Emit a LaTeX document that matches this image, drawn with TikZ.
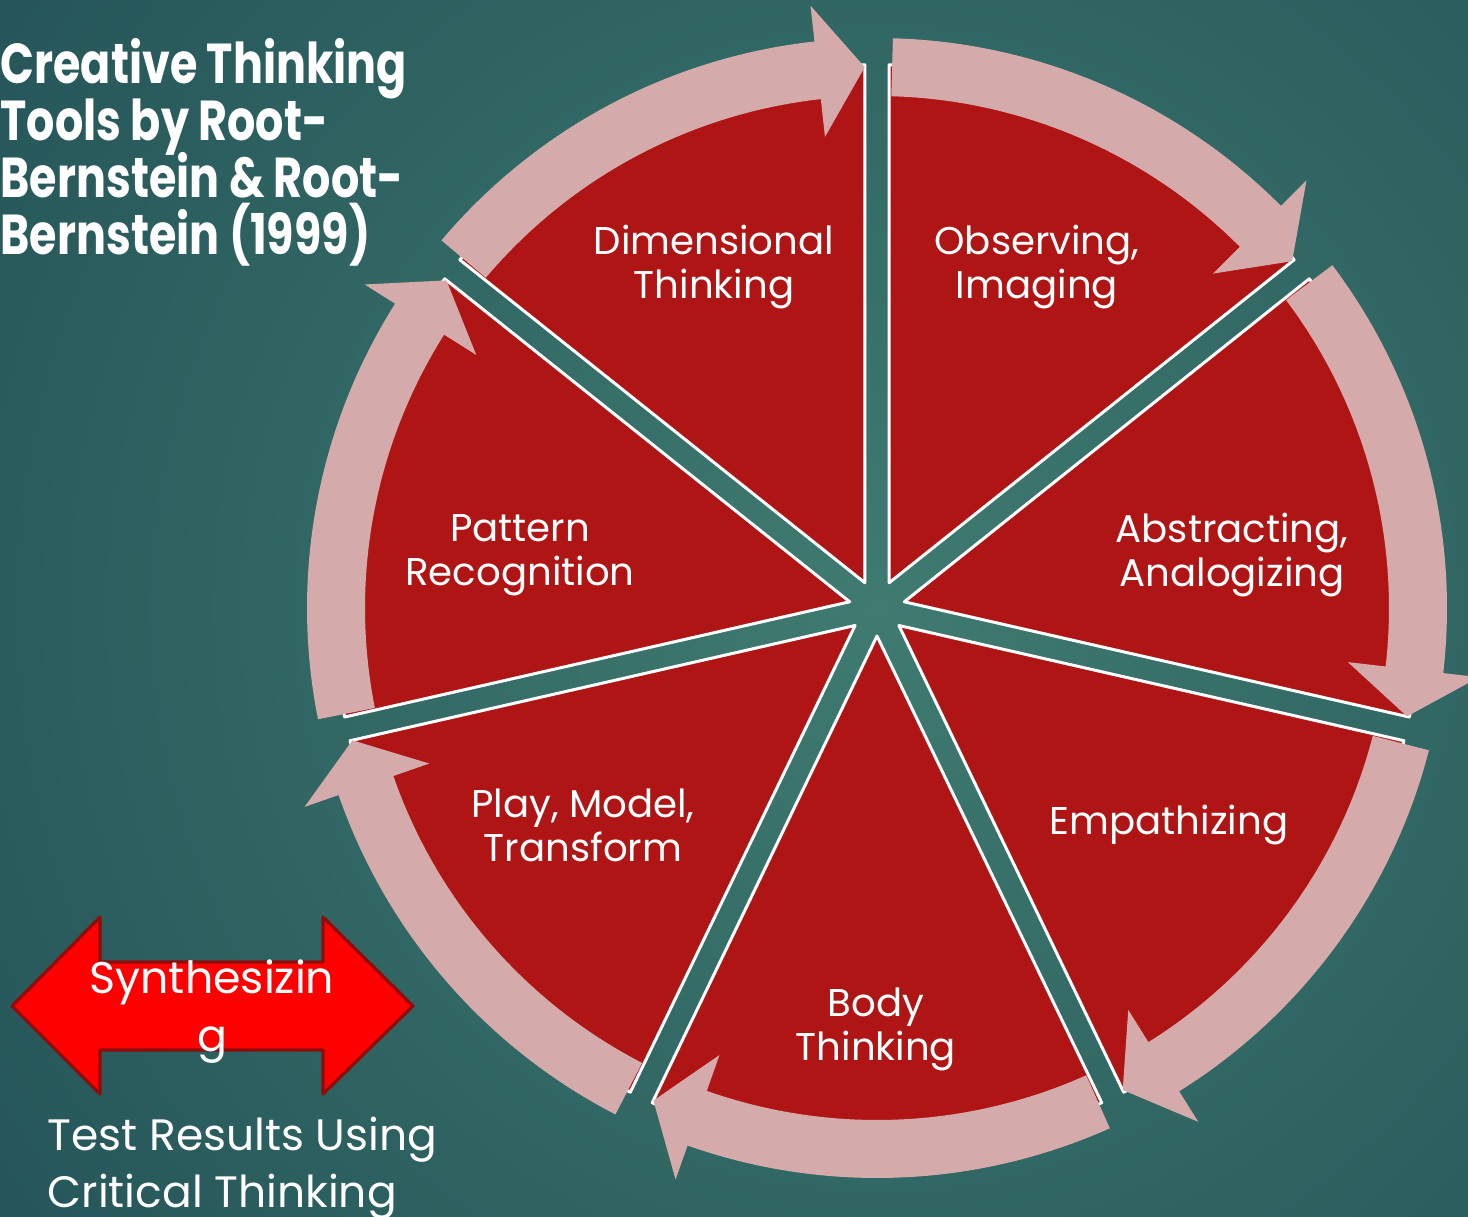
\documentclass[tikz,border=0pt]{standalone}
\usepackage{fontspec}
\setmainfont{Poppins}
\newfontfamily\headfont[FakeStretch=0.79]{Poppins}
\usetikzlibrary{positioning}
\lineskiplimit=-100pt

\definecolor{slicered}{HTML}{B01515}
\definecolor{arrowpink}{HTML}{D4AAAA}
\definecolor{bgdark}{HTML}{1B4650}
\definecolor{bglight}{HTML}{3F7B70}
\definecolor{synthred}{HTML}{FF0000}
\definecolor{synthedge}{HTML}{8E0C0C}

\begin{document}
\begin{tikzpicture}[x=0.01cm, y=0.01cm,
        slicebox/.style={fill=slicered, draw=white, line width=0.85pt, line join=round},
        cyclearrow/.style={fill=arrowpink},
        toollabel/.style={text=white, align=center, inner sep=0pt, font=\fontsize{11}{12.5}\selectfont},
        titletext/.style={text=white, align=left, inner sep=0pt, font=\headfont\bfseries\fontsize{16}{16.2}\selectfont},
        synthtext/.style={text=white, align=center, inner sep=0pt, font=\fontsize{12.6}{16.5}\selectfont},
        resulttext/.style={text=white, align=left, inner sep=0pt, font=\fontsize{12.5}{16.2}\selectfont}]
            \useasboundingbox (0,0) rectangle (1468,-1217);
            \begin{scope}
                \clip (0,0) rectangle (1468,-1217);
                \shade[inner color=bglight, outer color=bgdark] (877,-608) circle (1500);
            \end{scope}

            \begin{scope}[shift={(877,-608)}]
                \foreach \k in {0,...,6}{
                    \pgfmathsetmacro{\e}{90-\k*360/7}
                    \draw[slicebox] (\e+180/7:28) -- ++(\e:518) arc[start angle=\e, end angle=\e+360/7, radius=518] -- cycle;
                }
                \foreach \k in {0,...,6}{
                    \pgfmathsetmacro{\e}{90-\k*360/7}
                    \fill[cyclearrow] (\e+360/7-1.6:570) arc[start angle=\e+360/7-1.6, end angle=\e+6.3, radius=570]
                        -- (\e+6.3:606) -- (\e+1.3:541) -- (\e+6.3:474) -- (\e+6.3:512)
                        arc[start angle=\e+6.3, end angle=\e+360/7-1.6, radius=512] -- cycle;
                }
            \end{scope}

            \node[toollabel] (dimensional) at (714,-267) {Dimensional\\Thinking};
            \node[toollabel] (observing) at (1037,-267) {Observing,\\Imaging};
            \node[toollabel] (pattern) at (520,-555) {Pattern\\Recognition};
            \node[toollabel] (abstracting) at (1232,-555) {Abstracting,\\Analogizing};
            \node[toollabel] (play) at (583,-825) {Play, Model,\\Transform};
            \node[toollabel] (empathizing) at (1169,-825) {Empathizing};
            \node[toollabel] (body) at (876,-1029) {Body\\Thinking};

            \node[titletext, anchor=west] (title) at (0,-152) {Creative Thinking\\Tools by Root-\\Bernstein \& Root-\\Bernstein (1999)};

            \draw[fill=synthred, draw=synthedge, line width=0.9pt, line join=round] (12,-1006) -- (100,-917) -- (100,-962) -- (323,-962) -- (323,-917) -- (413,-1006)
                -- (323,-1094) -- (323,-1050) -- (100,-1050) -- (100,-1094) -- cycle;
            \node[synthtext] (synth) at (212,-1012) {Synthesizin\\g};
            \node[resulttext, anchor=west] (results) at (47,-1168) {Test Results Using\\Critical Thinking};
        \end{tikzpicture}
\end{document}
